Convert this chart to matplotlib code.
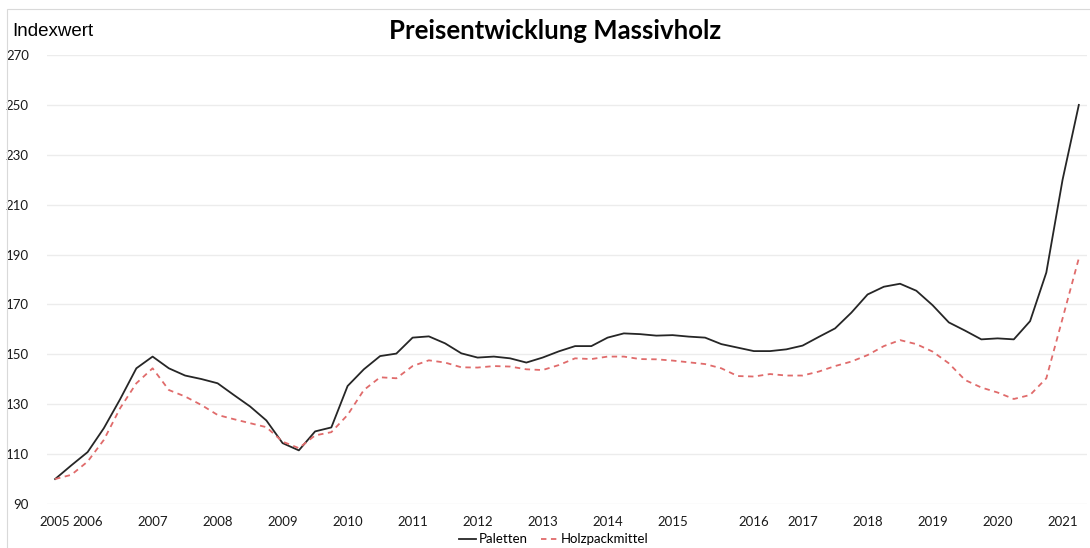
"""
Preisentwicklung Massivholz.
Liniendiagramm der Indexwerte für Paletten und Holzpackmittel (quartalsweise).
"""

import matplotlib
matplotlib.use('Agg')
import matplotlib.pyplot as plt
from matplotlib.patches import Rectangle

# Kategorien (wie in der Excel-Tabelle: nur einige Zeilen tragen eine Jahreszahl)
kategorien = ['2005', '', '2006', '', '', '', '2007', '',
              '', '', '2008', '', '', '', '2009', '',
              '', '', '2010', '', '', '', '2011', '',
              '', '', '2012', '', '', '', '2013', '',
              '', '', '2014', '', '', '', '2015', '',
              '', '', '', '2016', '', '', '2017', '',
              '', '', '2018', '', '', '', '2019', '',
              '', '', '2020', '', '', '', '2021', '']

paletten = [100.0, 105.5, 110.8, 120.4, 132.0, 144.4, 149.1, 144.4,
            141.5, 140.1, 138.4, 133.7, 129.1, 123.5, 114.4, 111.5,
            119.1, 120.7, 137.3, 144.0, 149.3, 150.3, 156.7, 157.2,
            154.4, 150.4, 148.7, 149.1, 148.4, 146.7, 148.7, 151.2,
            153.3, 153.3, 156.7, 158.4, 158.1, 157.5, 157.7, 157.1,
            156.7, 154.1, 152.7, 151.3, 151.3, 152.0, 153.5, 157.0,
            160.4, 166.7, 174.0, 177.1, 178.3, 175.5, 169.7, 162.8,
            159.5, 156.0, 156.4, 156.0, 163.3, 182.8, 220.0, 250.0]

holzpackmittel = [100.0, 101.7, 107.0, 115.7, 128.4, 138.4, 144.4, 135.7,
                  133.1, 129.7, 125.7, 124.0, 122.4, 120.8, 115.0, 112.4,
                  117.5, 118.8, 125.7, 135.7, 140.8, 140.4, 145.3, 147.6,
                  146.7, 144.8, 144.7, 145.3, 145.1, 144.0, 143.7, 145.7,
                  148.4, 148.1, 149.1, 149.1, 148.1, 148.0, 147.5, 146.8,
                  146.1, 144.4, 141.3, 141.1, 142.1, 141.5, 141.5, 143.1,
                  145.3, 147.1, 149.7, 153.3, 155.7, 154.1, 151.1, 146.4,
                  139.7, 136.7, 134.7, 132.1, 133.7, 140.4, 164.4, 188.5]

y_ticks = list(range(90, 271, 20))


def zeichne_diagramm():
    fig = plt.figure(figsize=(10.9, 5.48), dpi=100)
    ax = fig.add_axes([0.0431, 0.0803, 0.9541, 0.8193])

    x = range(len(kategorien))
    ax.plot(x, paletten, color='#262626', linewidth=1.3, label='Paletten')
    ax.plot(x, holzpackmittel, color='#e06b6b', linewidth=1.3,
            dashes=(3, 2.5), label='Holzpackmittel')

    ax.set_xlim(-0.5, len(kategorien) - 0.5)
    ax.set_ylim(90, 270)

    # Achsenbeschriftung nur an den Kategorien mit Jahreszahl
    pos = [i for i, k in enumerate(kategorien) if k]
    ax.set_xticks(pos)
    ax.set_xticklabels([kategorien[i] for i in pos], family='Lato', fontsize=9.5)
    ax.set_yticks(y_ticks)
    ax.set_yticklabels([str(v) for v in y_ticks], family='Lato', fontsize=9.5)
    ax.tick_params(axis='x', length=0, pad=9, colors='#1a1a1a')
    ax.tick_params(axis='y', length=0, pad=13, colors='#1a1a1a')

    ax.grid(axis='y', color='#ececec', linewidth=1)
    ax.set_axisbelow(True)
    for s in ax.spines.values():
        s.set_visible(False)

    fig.text(0.011, 0.943, 'Indexwert', family='Liberation Sans', fontsize=13.5,
             ha='left', va='center')
    fig.text(0.509, 0.943, 'Preisentwicklung Massivholz', family='Lato',
             fontsize=18.5, fontweight='bold', ha='center', va='center')

    fig.legend(loc='lower center', bbox_to_anchor=(0.508, -0.012), ncol=2,
               frameon=False, prop={'family': 'Lato', 'size': 9.5},
               handlelength=1.3, handletextpad=0.2, columnspacing=1.0,
               borderpad=0.2)

    # heller Rahmen des Diagrammbereichs
    fig.patches.append(Rectangle((7 / 1090, -0.01), 1.1, 1 - 9 / 548 + 0.01,
                                 transform=fig.transFigure, fill=False,
                                 edgecolor='#d9d9d9', linewidth=0.8))

    fig.savefig('out.png', dpi=100)


if __name__ == '__main__':
    zeichne_diagramm()
